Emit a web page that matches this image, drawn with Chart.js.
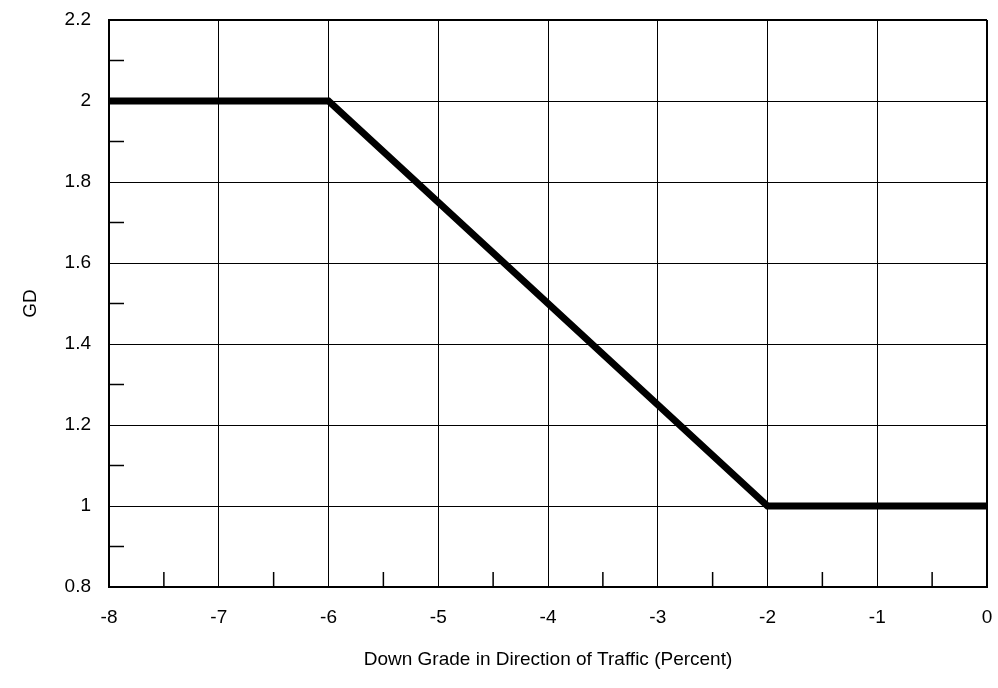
<!DOCTYPE html>
<html>
<head>
<meta charset="utf-8">
<script src="https://cdn.jsdelivr.net/npm/chart.js@4/dist/chart.umd.min.js"></script>
<style>
  html, body { margin: 0; padding: 0; background: #fff; }
  #wrap { width: 998px; height: 688px; }
</style>
</head>
<body>
<div id="wrap"><canvas id="gdChart"></canvas></div>
<script>
// grade (percent) vs GD
const grades = [-8, -6, -2, 0];
const gdValues = [2, 2, 1, 1];
const minorX = [-7.5, -6.5, -5.5, -4.5, -3.5, -2.5, -1.5, -0.5];
const minorY = [0.9, 1.1, 1.3, 1.5, 1.7, 1.9, 2.1];

const FONT = "'Liberation Sans', Arial, sans-serif";

// short inside ticks at the half steps
const minorTicks = {
  id: "minorTicks",
  afterDatasetsDraw(chart) {
    const ctx = chart.ctx;
    const xs = chart.scales.x;
    const ys = chart.scales.y;
    ctx.save();
    ctx.strokeStyle = "#000";
    ctx.lineWidth = 1.5;
    ctx.beginPath();
    minorX.forEach(function (v) {
      let px = xs.getPixelForValue(v);
      ctx.moveTo(px, ys.bottom);
      ctx.lineTo(px, ys.bottom - 15);
    });
    minorY.forEach(function (v) {
      let py = ys.getPixelForValue(v);
      ctx.moveTo(xs.left, py);
      ctx.lineTo(xs.left + 15, py);
    });
    ctx.stroke();
    ctx.restore();
  },
};

let ctx = document.getElementById("gdChart").getContext("2d");
let gdChart = new Chart(ctx, {
  type: "scatter",
  data: {
    datasets: [
      {
        data: grades.map(function (g, i) {
          return { x: g, y: gdValues[i] };
        }),
        showLine: true,
        borderColor: "#000",
        borderWidth: 7,
        pointRadius: 0,
        borderJoinStyle: "miter",
        borderCapStyle: "butt",
      },
    ],
  },
  options: {
    responsive: true,
    maintainAspectRatio: false,
    animation: false,
    layout: { padding: { top: 20, right: 11, left: 0, bottom: 0 } },
    plugins: {
      legend: { display: false },
      tooltip: { enabled: false },
    },
    scales: {
      x: {
        type: "linear",
        min: -8,
        max: 0,
        ticks: {
          stepSize: 1,
          padding: 19,
          color: "#000",
          font: { family: FONT, size: 19 },
        },
        grid: {
          color: "#000",
          lineWidth: function (c) {
            return c.tick && c.tick.value === 0 ? 2 : 1;
          },
          drawTicks: false,
        },
        border: { color: "#000", width: 2 },
        title: {
          display: true,
          text: "Down Grade in Direction of Traffic (Percent)",
          color: "#000",
          font: { family: FONT, size: 19 },
          padding: { top: 24, bottom: 17 },
        },
        afterFit: function (scale) {
          scale.height = 101;
          scale.paddingLeft = 0;
          scale.paddingRight = 0;
        },
      },
      y: {
        min: 0.8,
        max: 2.2,
        ticks: {
          stepSize: 0.2,
          padding: 18,
          color: "#000",
          font: { family: FONT, size: 19 },
          callback: function (v) {
            return Math.round(v * 10) / 10;
          },
        },
        grid: {
          color: "#000",
          lineWidth: function (c) {
            return c.tick && Math.abs(c.tick.value - 2.2) < 1e-6 ? 2 : 1;
          },
          drawTicks: false,
        },
        border: { color: "#000", width: 2 },
        title: {
          display: true,
          text: "GD",
          color: "#000",
          font: { family: FONT, size: 19 },
          padding: { top: 19, bottom: 0 },
        },
        afterFit: function (scale) {
          scale.width = 109;
          scale.paddingTop = 0;
          scale.paddingBottom = 0;
        },
      },
    },
  },
  plugins: [minorTicks],
});
</script>
</body>
</html>
